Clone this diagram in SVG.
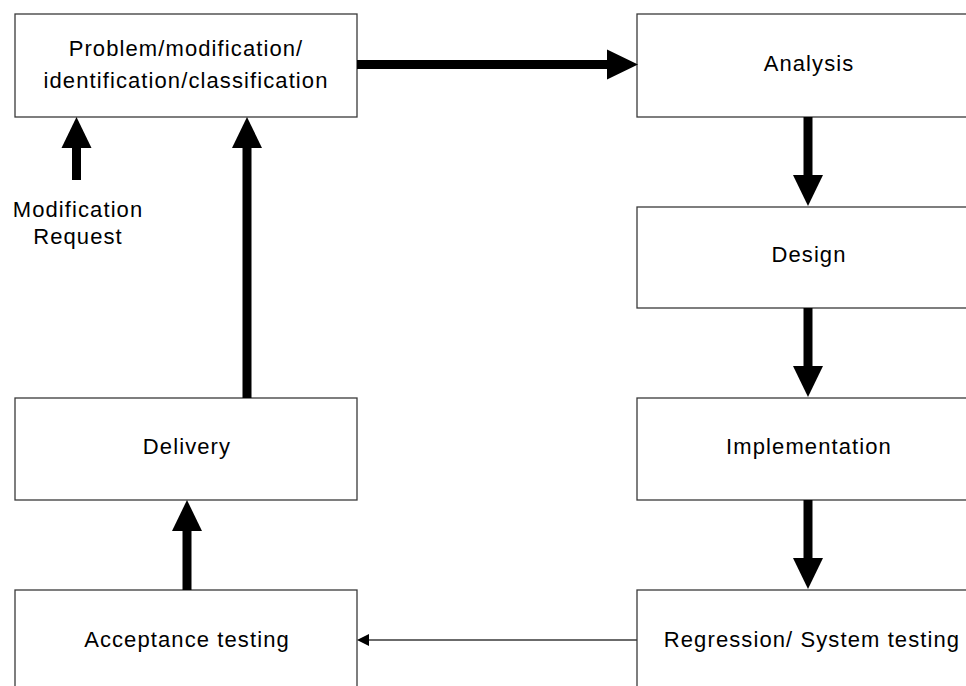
<svg xmlns="http://www.w3.org/2000/svg" width="966" height="686" viewBox="0 0 966 686">
  <defs>
    <style>
      .box { fill: #ffffff; stroke: #3a3a3a; stroke-width: 1.3; }
      .lbl { font-family: "Liberation Sans", Arial, sans-serif; font-size: 22px; letter-spacing: 1.1px; fill: #000; text-anchor: middle; }
      .thick { stroke: #000; stroke-width: 9; fill: none; }
      .thin { stroke: #3a3a3a; stroke-width: 1.5; fill: none; }
    </style>
    <!-- large filled head; origin sits at the end of the shaft -->
    <marker id="bigHead" markerUnits="userSpaceOnUse" markerWidth="32" markerHeight="30" refX="0" refY="15" orient="auto" overflow="visible">
      <path d="M0,0 L31,15 L0,30 Z" fill="#000"/>
    </marker>
    <marker id="smallHead" markerUnits="userSpaceOnUse" markerWidth="12" markerHeight="12" refX="0" refY="6" orient="auto" overflow="visible">
      <path d="M0,0 L12,6 L0,12 Z" fill="#000"/>
    </marker>
  </defs>

  <rect x="0" y="0" width="966" height="686" fill="#ffffff"/>

  <g id="node-identification">
    <rect class="box" x="15" y="14" width="342" height="103"/>
    <text class="lbl" x="186" y="56">Problem/modification/</text>
    <text class="lbl" x="186" y="88">identification/classification</text>
  </g>

  <g id="node-analysis">
    <rect class="box" x="637" y="14" width="345" height="103"/>
    <text class="lbl" x="809" y="71">Analysis</text>
  </g>

  <g id="node-design">
    <rect class="box" x="637" y="207" width="345" height="101"/>
    <text class="lbl" x="809" y="262">Design</text>
  </g>

  <g id="node-implementation">
    <rect class="box" x="637" y="398" width="345" height="102"/>
    <text class="lbl" x="809" y="454">Implementation</text>
  </g>

  <g id="node-regression">
    <rect class="box" x="637" y="590" width="345" height="103"/>
    <text class="lbl" x="812" y="647">Regression/ System testing</text>
  </g>

  <g id="node-delivery">
    <rect class="box" x="15" y="398" width="342" height="102"/>
    <text class="lbl" x="187" y="454">Delivery</text>
  </g>

  <g id="node-acceptance">
    <rect class="box" x="15" y="590" width="342" height="103"/>
    <text class="lbl" x="187" y="647">Acceptance testing</text>
  </g>

  <g id="label-request">
    <text class="lbl" x="78" y="217">Modification</text>
    <text class="lbl" x="78" y="244">Request</text>
  </g>

  <g id="connectors">
    <line class="thick" x1="357" y1="64.5" x2="607" y2="64.5" marker-end="url(#bigHead)"/>
    <line class="thick" x1="808" y1="117" x2="808" y2="175" marker-end="url(#bigHead)"/>
    <line class="thick" x1="808" y1="308" x2="808" y2="366" marker-end="url(#bigHead)"/>
    <line class="thick" x1="808" y1="500" x2="808" y2="558" marker-end="url(#bigHead)"/>
    <line class="thin" x1="637" y1="640" x2="369" y2="640" marker-end="url(#smallHead)"/>
    <line class="thick" x1="187" y1="590" x2="187" y2="531" marker-end="url(#bigHead)"/>
    <line class="thick" x1="247" y1="398" x2="247" y2="148" marker-end="url(#bigHead)"/>
    <line class="thick" x1="76.5" y1="180" x2="76.5" y2="148" marker-end="url(#bigHead)"/>
  </g>
</svg>
